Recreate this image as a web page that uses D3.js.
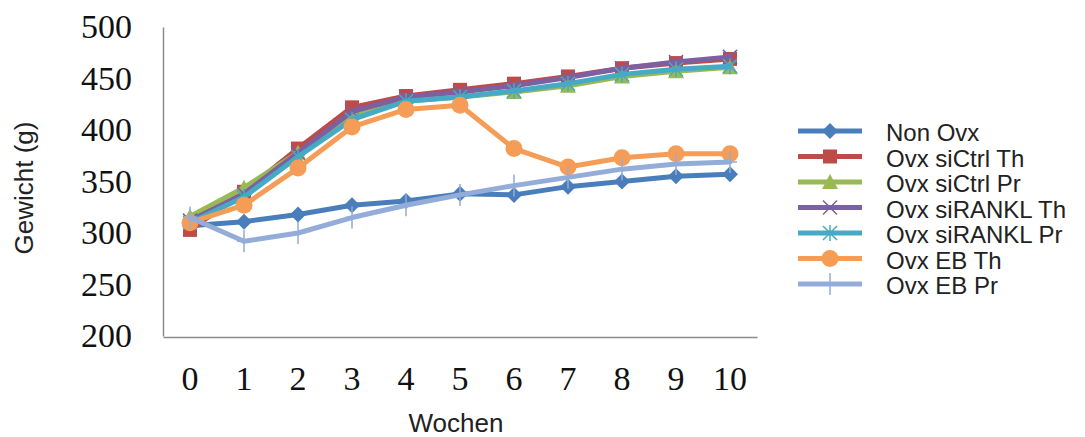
<!DOCTYPE html>
<html><head><meta charset="utf-8">
<script src="https://cdn.jsdelivr.net/npm/d3@7"></script>
<style>body{margin:0;background:#fff}svg{display:block}</style>
</head><body>
<svg id="c" width="1085" height="437"></svg>
<script>
const weeks = ["0","1","2","3","4","5","6","7","8","9","10"];
const yTicks = [200,250,300,350,400,450,500];
const seriesNames = ["Non Ovx","Ovx siCtrl Th","Ovx siCtrl Pr","Ovx siRANKL Th","Ovx siRANKL Pr","Ovx EB Th","Ovx EB Pr"];
const nonOvx      = [307,311,318,327,331,338,337,345,350,355,357];
const siCtrlTh    = [303,340,382,422,433,439,445,452,460,465,469];
const siCtrlPr    = [316,344,378,413,428,432,437,443,452,457,461];
const siRanklTh   = [312,338,378,418,432,437,443,451,460,466,471];
const siRanklPr   = [310,335,374,410,428,432,438,445,454,459,462];
const ebTh        = [310,327,363,403,420,424,382,364,373,377,377];
const ebPr        = [315,292,300,315,327,337,346,354,362,367,369];
const seriesValues = [nonOvx,siCtrlTh,siCtrlPr,siRanklTh,siRanklPr,ebTh,ebPr];
const colors = ["#4a7ebb","#be4b48","#98b954","#7d60a0","#46aac5","#f59d56","#93acd9"];
const markers = ["diamond","square","triangle","x","asterisk","circle","plus"];

const svg = d3.select("#c");
const x = d3.scaleBand().domain(weeks).range([163,757]);
const y = d3.scaleLinear().domain([200,500]).range([336,27]);
const sans = "'Liberation Sans',Arial,sans-serif";
const serif = "'Liberation Serif','Times New Roman',serif";

// axes
const gx = svg.append("g").attr("transform","translate(0,337)")
  .call(d3.axisBottom(x).tickSize(0));
gx.select(".domain").attr("stroke","#8c8c8c").attr("stroke-width",1.5);
gx.selectAll("text").attr("y",53).attr("dy",0).attr("font-family",serif).attr("font-size",34).attr("fill","#111");

const gy = svg.append("g").attr("transform","translate(163,0)")
  .call(d3.axisLeft(y).tickValues(yTicks).tickSize(0).tickPadding(31));
gy.select(".domain").attr("stroke","#8c8c8c").attr("stroke-width",1.5);
gy.selectAll("text").attr("font-family",serif).attr("font-size",34).attr("fill","#111");

svg.append("text").attr("transform","translate(33,188) rotate(-90)")
  .attr("text-anchor","middle").attr("font-family",sans)
  .attr("font-size",26).attr("fill","#222").text("Gewicht (g)");
svg.append("text").attr("x",456).attr("y",432)
  .attr("text-anchor","middle").attr("font-family",sans)
  .attr("font-size",26).attr("fill","#222").text("Wochen");

function drawMarker(g, type, cx, cy, color){
  const s = 7;
  if(type==="diamond"){
    g.append("path").attr("d",`M${cx},${cy-s-1}L${cx+s+1},${cy}L${cx},${cy+s+1}L${cx-s-1},${cy}Z`).attr("fill",color);
  } else if(type==="square"){
    g.append("rect").attr("x",cx-s).attr("y",cy-s).attr("width",2*s).attr("height",2*s).attr("fill",color);
  } else if(type==="triangle"){
    g.append("path").attr("d",`M${cx},${cy-s-1}L${cx+s+1},${cy+s}L${cx-s-1},${cy+s}Z`).attr("fill",color);
  } else if(type==="circle"){
    g.append("circle").attr("cx",cx).attr("cy",cy).attr("r",s+1.5).attr("fill",color);
  } else if(type==="x"){
    g.append("path").attr("d",`M${cx-s},${cy-s}L${cx+s},${cy+s}M${cx-s},${cy+s}L${cx+s},${cy-s}`).attr("stroke",color).attr("stroke-width",1.5);
  } else if(type==="asterisk"){
    g.append("path").attr("d",`M${cx-s},${cy-s}L${cx+s},${cy+s}M${cx-s},${cy+s}L${cx+s},${cy-s}M${cx},${cy-s-1}L${cx},${cy+s+1}`).attr("stroke",color).attr("stroke-width",1.5);
  } else if(type==="plus"){
    g.append("path").attr("d",`M${cx},${cy-s-4}L${cx},${cy+s+4}M${cx-s},${cy}L${cx+s},${cy}`).attr("stroke",color).attr("stroke-width",1.5);
  }
}

const line = d3.line().x((d,i)=>x(weeks[i])+x.bandwidth()/2).y(d=>y(d));
seriesValues.forEach((vals,k)=>{
  const g = svg.append("g");
  g.append("path").attr("d",line(vals)).attr("fill","none").attr("stroke",colors[k])
    .attr("stroke-width",5).attr("stroke-linejoin","round").attr("stroke-linecap","round");
  vals.forEach((v,i)=>drawMarker(g,markers[k],x(weeks[i])+x.bandwidth()/2,y(v),colors[k]));
});

// legend
const leg = svg.append("g");
seriesNames.forEach((n,k)=>{
  const cy = 131 + k*25.5;
  const g = leg.append("g");
  g.append("line").attr("x1",798).attr("x2",862).attr("y1",cy).attr("y2",cy)
    .attr("stroke",colors[k]).attr("stroke-width",5);
  drawMarker(g,markers[k],830,cy,colors[k]);
  g.append("text").attr("x",886).attr("y",cy+10).attr("font-family",sans)
    .attr("font-size",24).attr("fill","#222").text(n);
});
</script>
</body></html>
